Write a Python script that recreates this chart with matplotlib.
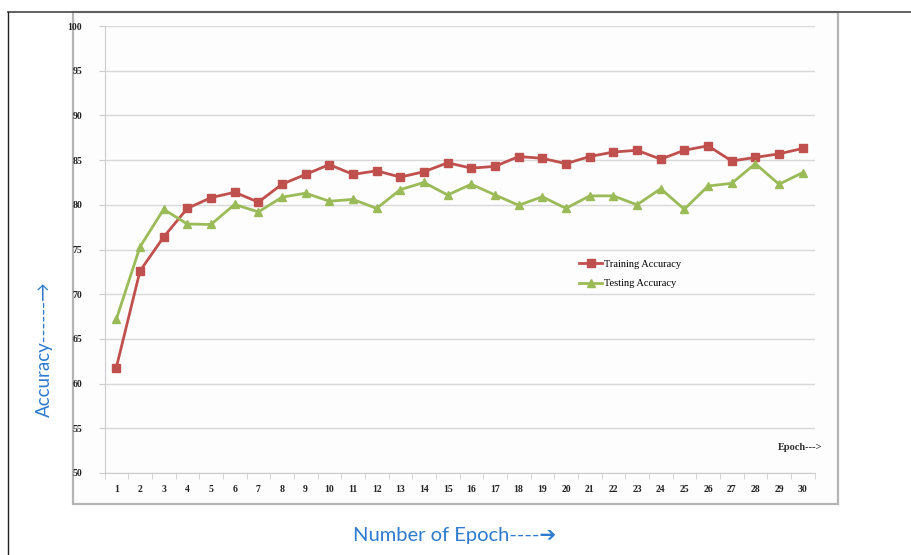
import matplotlib
matplotlib.use("Agg")
from matplotlib import pyplot as plt
from matplotlib.patches import Rectangle
from matplotlib.lines import Line2D
import numpy as np

W, H = 911, 555

epochs = list(range(1, 31))
train_acc = [61.8, 72.6, 76.4, 79.6, 80.8, 81.4, 80.3, 82.3, 83.4, 84.5,
             83.4, 83.8, 83.1, 83.7, 84.7, 84.1, 84.3, 85.4, 85.2, 84.6,
             85.4, 85.9, 86.1, 85.1, 86.1, 86.6, 84.9, 85.3, 85.7, 86.3]
test_acc = [67.2, 75.3, 79.5, 77.85, 77.8, 80.05, 79.2, 80.85, 81.3, 80.4,
            80.6, 79.6, 81.7, 82.5, 81.1, 82.3, 81.1, 79.95, 80.9, 79.6,
            81.0, 81.0, 80.0, 81.8, 79.5, 82.1, 82.4, 84.6, 82.3, 83.6]
y_ticks = [50, 55, 60, 65, 70, 75, 80, 85, 90, 95, 100]

red = '#C0504D'
green = '#9BBB59'
blue = '#2E7BCF'
serif = 'Liberation Serif'

fig = plt.figure(figsize=(W / 100, H / 100), dpi=100)

def fx(px):
    return px / W

def fy(py):
    return 1 - py / H

# outer frame lines
fig.add_artist(Line2D([fx(8), fx(911)], [fy(11.5), fy(11.5)], color='#555555', lw=1.3))
fig.add_artist(Line2D([fx(8), fx(8)], [fy(11.5), fy(555)], color='#222222', lw=1.0))

# chart box
fig.add_artist(Rectangle((fx(72.5), fy(503.5)), fx(838) - fx(72.5), fy(12) - fy(503.5),
                         facecolor='#fdfdfd', edgecolor='#b4b4b4', lw=1.6, zorder=0))

ax = fig.add_axes([fx(104.5), fy(473), fx(814.5) - fx(104.5), fy(26) - fy(473)])
ax.set_facecolor('none')

ax.plot(epochs, train_acc, color=red, lw=2.0, marker='s', markersize=5.8,
        label='Training Accuracy', zorder=3)
ax.plot(epochs, test_acc, color=green, lw=2.0, marker='^', markersize=6.0,
        label='Testing Accuracy', zorder=3)

ax.set_xlim(0.5, 30.5)
ax.set_ylim(50, 100)
ax.set_yticks(y_ticks)
ax.set_xticks(epochs)
ax.set_xticks(np.arange(0.5, 31, 1), minor=True)
ax.tick_params(axis='x', which='major', length=0, pad=9)
ax.tick_params(axis='x', which='minor', length=4, color='#cccccc', direction='out')
ax.tick_params(axis='y', length=4, color='#cccccc', pad=12)
for lbl in ax.get_xticklabels() + ax.get_yticklabels():
    lbl.set_fontfamily(serif)
    lbl.set_fontweight('bold')
    lbl.set_fontsize(7)
    lbl.set_color('#222222')

ax.grid(axis='y', color='#d9d9d9', lw=1.0)
ax.set_axisbelow(True)
for side in ['top', 'right']:
    ax.spines[side].set_visible(False)
ax.spines['left'].set_color('#cccccc')
ax.spines['bottom'].set_color('#cccccc')

leg = ax.legend(loc='upper left', bbox_to_anchor=(fx(570), fy(250)),
                bbox_transform=fig.transFigure, frameon=False,
                prop={'family': serif, 'size': 7.5}, handlelength=2.2,
                handletextpad=0.2, labelspacing=1.0, markerscale=0.9)

fig.text(fx(800), fy(447), 'Epoch--->', family=serif, fontsize=7.5,
         fontweight='bold', color='#333333', ha='center', va='center')

fig.text(fx(455), fy(535), 'Number of Epoch----\u2794', family=['Lato', 'DejaVu Sans'],
         fontsize=14.5, color=blue, ha='center', va='center')
fig.text(fx(44), fy(349), 'Accuracy------\u2192', family=['Lato', 'DejaVu Sans'],
         fontsize=13.5, color=blue, ha='center', va='center', rotation=90)

fig.savefig('out.png', dpi=100)
